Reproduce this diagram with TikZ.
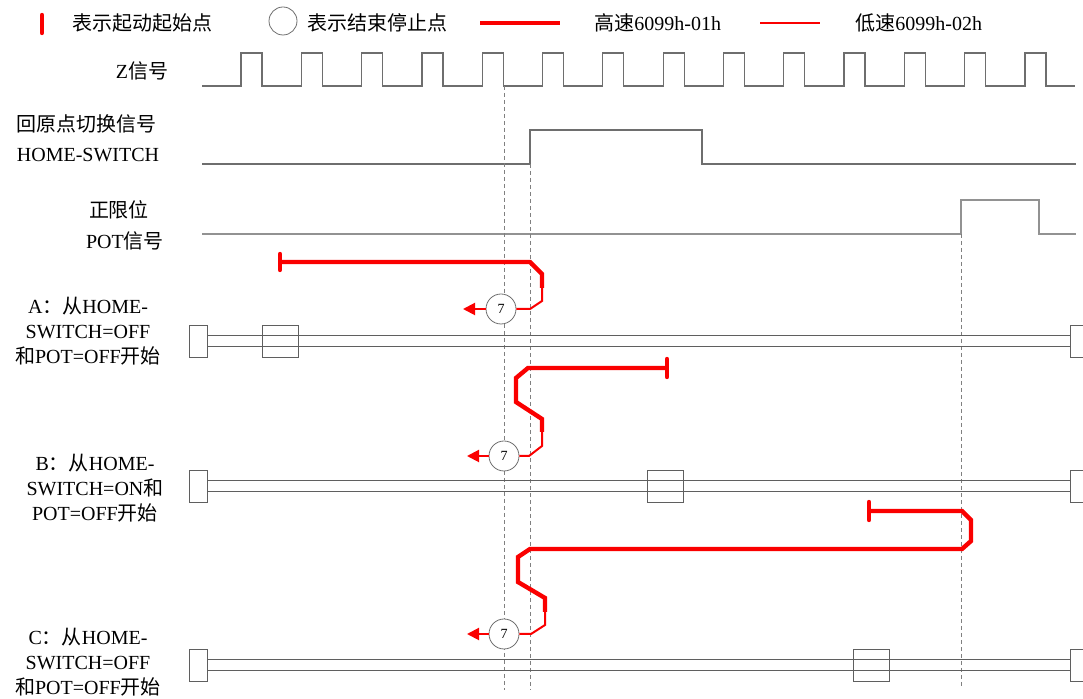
\documentclass[tikz,border=0pt]{standalone}
\usepackage{fontspec}
\setmainfont{Liberation Serif}
\newfontfamily\cjk{Noto Sans CJK SC}
\newcommand{\zh}[1]{{\cjk #1}}
\usetikzlibrary{arrows.meta}
\definecolor{sigray}{RGB}{110,110,110}
\definecolor{railgray}{RGB}{95,95,95}
\definecolor{pathred}{RGB}{250,0,0}

\begin{document}
\begin{tikzpicture}[x=0.5pt, y=-0.5pt,
  lbl/.style={inner sep=0pt, font=\fontsize{10}{12.5}\selectfont, align=center},
  sig/.style={draw=sigray, line width=0.6pt},
  guide/.style={draw=gray, line width=0.5pt, dash pattern=on 2pt off 1.5pt},
  rail/.style={draw=railgray, line width=0.5pt},
  endbox/.style={rectangle, draw=railgray, line width=0.5pt, minimum width=9pt, minimum height=16pt, inner sep=0pt},
  cart/.style={rectangle, draw=railgray, line width=0.5pt, minimum width=18pt, minimum height=16pt, inner sep=0pt},
  stopc/.style={circle, draw=sigray, fill=white, line width=0.4pt, minimum size=15pt, inner sep=0pt, font=\fontsize{7}{7}\selectfont},
  hipath/.style={draw=pathred, line width=2.2pt},
  lopath/.style={draw=pathred, line width=1pt},
  startbar/.style={draw=pathred, line width=2.2pt, line cap=round},
  retarrow/.style={draw=pathred, line width=1pt, -{Triangle[length=6pt,width=6pt]}}]
\useasboundingbox (0,0) rectangle (1083,699);

% legend
\draw[startbar] (42,15) -- (42,33);
\node[lbl, anchor=west] (lgstart) at (72,23) {\zh{表示起动起始点}};
\node[stopc, minimum size=14pt] (lgcirc) at (283,21) {};
\node[lbl, anchor=west] (lgstop) at (307,23) {\zh{表示结束停止点}};
\draw[hipath] (480,23) -- (560,23);
\node[lbl, anchor=west] (lghi) at (594,23) {\zh{高速}6099h-01h};
\draw[lopath] (760,23) -- (820,23);
\node[lbl, anchor=west] (lglo) at (855,23) {\zh{低速}6099h-02h};

% signals
\node[lbl] (zlbl) at (142,71) {Z\zh{信号}};
\draw[sig] (202,86) \foreach \k in {0,...,13} { -- ({241+60.3*\k},86) -- ++(0,-33) -- ++(21,0) -- ++(0,33) } -- (1075,86);
\node[lbl] (homelbl) at (87,124) {\zh{回原点切换信号}};
\node[lbl] (homelbl2) at (88,155) {HOME-SWITCH};
\draw[sig] (202,164) -- (530,164) -- (530,130) -- (702,130) -- (702,164) -- (1076,164);
\node[lbl] (potlbl) at (119,210) {\zh{正限位}};
\node[lbl] (potlbl2) at (125,241) {POT\zh{信号}};
\draw[sig, draw=sigray!75] (202,234) -- (961,234) -- (961,200) -- (1039,200) -- (1039,234) -- (1076,234);

% guides
\coordinate (zedge) at (504,86);
\coordinate (hedge) at (530,164);
\coordinate (pedge) at (961,234);
\draw[guide] (zedge) -- (504,690);
\draw[guide] (hedge) -- (530,690);
\draw[guide] (pedge) -- (961,688);

% rails
\foreach \n/\ty/\cx in {A/325/280, B/470/665.5, C/649/871} {
  \node[endbox, anchor=north west] (l\n) at (189,\ty) {};
  \node[endbox, anchor=north west] (r\n) at (1070,\ty) {};
  \draw[rail] ([yshift=-5.5pt]l\n.north east) -- ([yshift=-5.5pt]r\n.north west);
  \draw[rail] ([yshift=-11pt]l\n.north east) -- ([yshift=-11pt]r\n.north west);
  \node[cart] (k\n) at (\cx,\ty+17) {};
}

\node[lbl] (labA) at (88,331) {A\zh{：从}HOME-\\SWITCH=OFF\\\zh{和}POT=OFF\zh{开始}};
\node[lbl] (labB) at (95,488) {B\zh{：从}HOME-\\SWITCH=ON\zh{和}\\POT=OFF\zh{开始}};
\node[lbl] (labC) at (88,662) {C\zh{：从}HOME-\\SWITCH=OFF\\\zh{和}POT=OFF\zh{开始}};

% A
\node[stopc] (cA) at (501,309) {7};
\coordinate (sA) at (280,262);
\coordinate (mA) at (542,288);
\coordinate (eA) at (463,309);
\draw[hipath] (sA) -- (530,262) -- (542,274) -- (mA);
\draw[lopath] (mA) -- (542,301) -- (530,309) -- (cA);
\draw[retarrow] (cA) -- (eA);
\draw[startbar] ([yshift=4pt]sA) -- ([yshift=-4pt]sA);

% B
\node[stopc] (cB) at (504,456) {7};
\coordinate (sB) at (667,368);
\coordinate (mB) at (542,432);
\coordinate (eB) at (467,456);
\draw[hipath] (sB) -- (528,368) -- (516,378) -- (516,402) -- (542,419) -- (mB);
\draw[lopath] (mB) -- (542,446) -- (529,456) -- (cB);
\draw[retarrow] (cB) -- (eB);
\draw[startbar] ([yshift=4.5pt]sB) -- ([yshift=-4.5pt]sB);

% C
\node[stopc] (cC) at (504,634) {7};
\coordinate (sC) at (869,511);
\coordinate (mC) at (545,612);
\coordinate (eC) at (467,634);
\draw[hipath] (sC) -- (962,511) -- (971,520) -- (971,541) -- (962,549) -- (530,549) -- (518,557) -- (518,582) -- (545,598) -- (mC);
\draw[lopath] (mC) -- (545,625) -- (531,634) -- (cC);
\draw[retarrow] (cC) -- (eC);
\draw[startbar] ([yshift=4.5pt]sC) -- ([yshift=-4.5pt]sC);
\end{tikzpicture}
\end{document}
